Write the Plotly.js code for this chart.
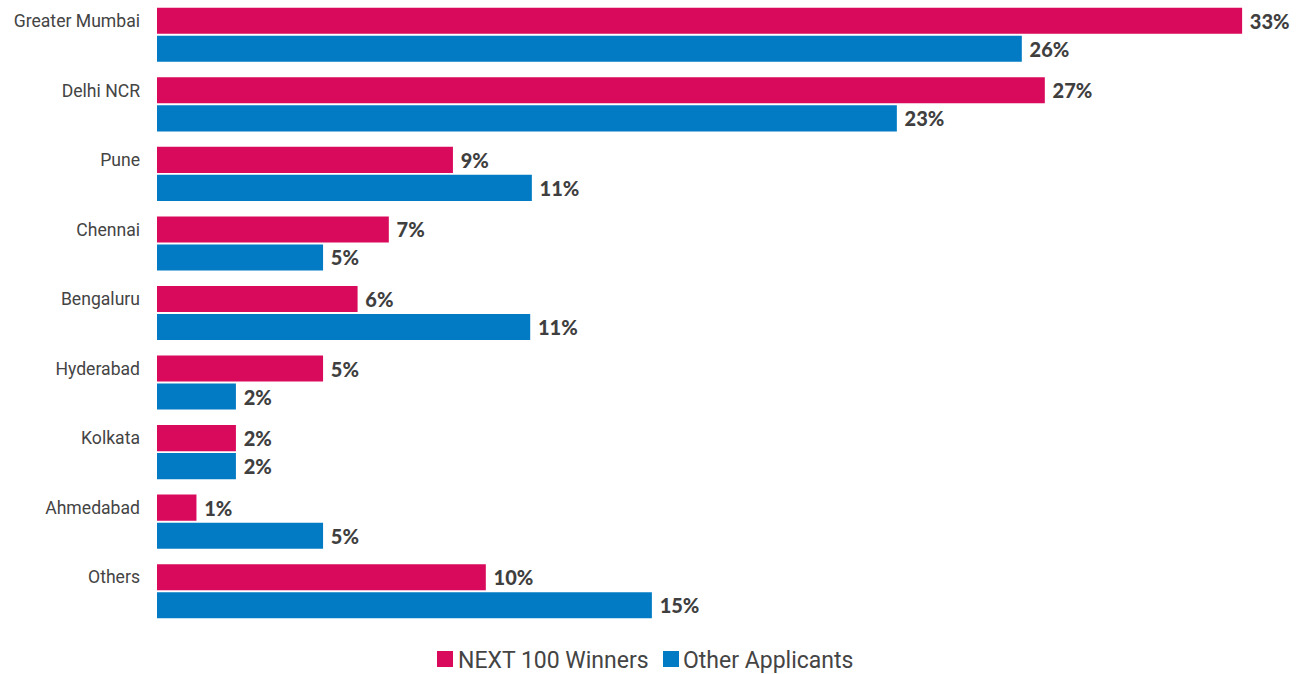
<!DOCTYPE html>
<html>
<head>
<meta charset="utf-8">
<script src="https://cdn.plot.ly/plotly-3.0.1.min.js"></script>
<style>html,body{margin:0;padding:0;background:#fff;}#chart{width:1299px;height:674px;}</style>
</head>
<body>
<div id="chart"></div>
<script>
const cities = ["Greater Mumbai","Delhi NCR","Pune","Chennai","Bengaluru","Hyderabad","Kolkata","Ahmedabad","Others"];
const winners = [33.0, 27.0, 9.0, 7.05, 6.1, 5.05, 2.4, 1.2, 10.0];
const others = [26.3, 22.5, 11.4, 5.05, 11.35, 2.4, 2.4, 5.05, 15.05];
const winnersLabels = ["33%","27%","9%","7%","6%","5%","2%","1%","10%"];
const othersLabels = ["26%","23%","11%","5%","11%","2%","2%","5%","15%"];
const seriesNames = ["NEXT 100 Winners","Other Applicants"];
const seriesColors = ["#D90A5B","#027BC4"];

const labelFont = {family: "Lato, Roboto, sans-serif", size: 20, color: "#3f3f3f", weight: 900};

const data = [
  {type:"bar", orientation:"h", name:seriesNames[0], y:cities, x:winners,
   text:winnersLabels, texttemplate:"\u00A0%{text}", textposition:"outside", textfont:labelFont, cliponaxis:false,
   marker:{color:seriesColors[0]}, hoverinfo:"skip"},
  {type:"bar", orientation:"h", name:seriesNames[1], y:cities, x:others,
   text:othersLabels, texttemplate:"\u00A0%{text}", textposition:"outside", textfont:labelFont, cliponaxis:false,
   marker:{color:seriesColors[1]}, hoverinfo:"skip"}
];

// custom legend (pixel layout of the plot area: x 157..1275, y 0..626)
const px = v => (v - 157) / 1118;
const py = v => (626 - v) / 626;
const legendFont = {family:"Roboto, 'Open Sans', sans-serif", size:23, color:"#444"};
const shapes = [
  {type:"rect", xref:"paper", yref:"paper", x0:px(437), x1:px(453), y0:py(651), y1:py(667), fillcolor:seriesColors[0], line:{width:0}},
  {type:"rect", xref:"paper", yref:"paper", x0:px(663), x1:px(679), y0:py(651), y1:py(667), fillcolor:seriesColors[1], line:{width:0}}
];
const annotations = [
  {xref:"paper", yref:"paper", x:px(456), y:py(660), xanchor:"left", yanchor:"middle", text:seriesNames[0], showarrow:false, font:legendFont},
  {xref:"paper", yref:"paper", x:px(681), y:py(660), xanchor:"left", yanchor:"middle", text:seriesNames[1], showarrow:false, font:legendFont}
];

const layout = {
  width:1299, height:674,
  margin:{l:157, r:24, t:0, b:48},
  paper_bgcolor:"#fff", plot_bgcolor:"#fff",
  barmode:"group", bargap:0.194, bargroupgap:0.07,
  xaxis:{range:[0,34], showgrid:false, zeroline:false, showticklabels:false, showline:false, fixedrange:true},
  yaxis:{autorange:"reversed", showgrid:false, zeroline:false, showline:false, ticks:"",
         ticklabelstandoff:16, ticklabelshift:14,
         tickfont:{family:"Roboto, 'Open Sans', sans-serif", size:17.6, color:"#444"}},
  showlegend:false,
  shapes:shapes,
  annotations:annotations
};

Plotly.newPlot("chart", data, layout, {displayModeBar:false, staticPlot:true});
</script>
</body>
</html>
